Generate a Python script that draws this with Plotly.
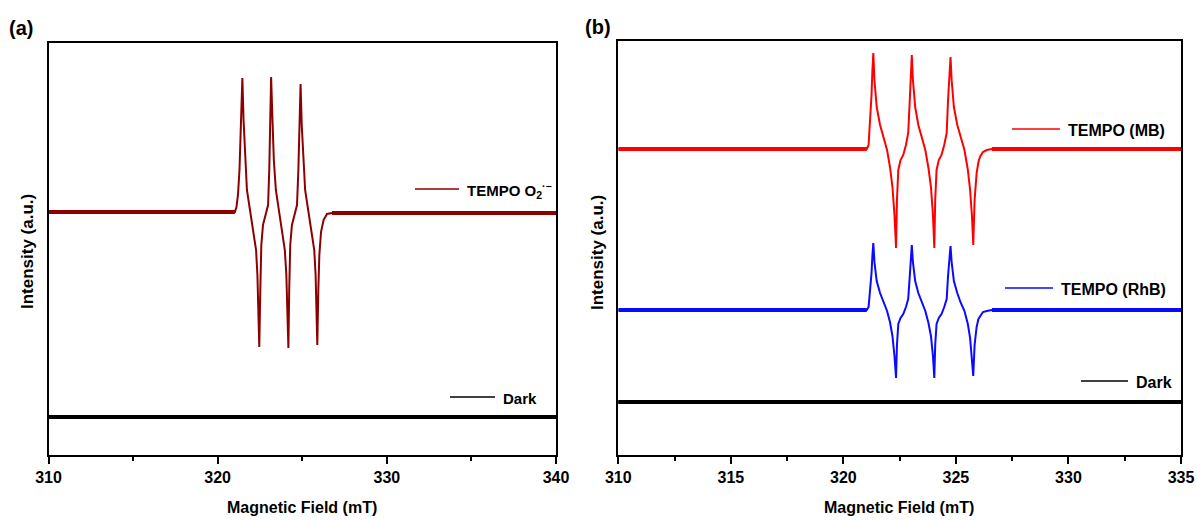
import plotly.graph_objects as go

# ---------------- Panel (a): TEMPO spin trap, superoxide ----------------
field_a = [310.00, 321.02, 321.11, 321.20, 321.29, 321.37, 321.46, 321.53, 321.62, 321.73,
           321.91, 322.09, 322.27, 322.35, 322.41, 322.46, 322.52, 322.58, 322.68, 322.83,
           322.98, 323.05, 323.11, 323.16, 323.24, 323.32, 323.44, 323.62, 323.80, 323.97,
           324.06, 324.12, 324.18, 324.23, 324.29, 324.39, 324.54, 324.69, 324.77, 324.82,
           324.90, 324.97, 325.06, 325.17, 325.35, 325.53, 325.71, 325.79, 325.85, 325.89,
           325.95, 326.01, 326.11, 326.26, 326.46, 326.76, 340.00]
tempo_o2 = [243, 243, 248, 260, 285, 330, 377, 335, 295, 265,
            245, 227, 205, 180, 145, 108, 165, 210, 230, 240,
            250, 285, 335, 378, 335, 295, 265, 245, 227, 205,
            180, 145, 107, 165, 210, 230, 240, 250, 285, 330,
            371, 330, 293, 265, 245, 227, 205, 180, 145, 110,
            165, 200, 223, 235, 241, 242, 242]
dark_a_field = [310, 340]
dark_a = [38, 38]

# ---------------- Panel (b): TEMPO with MB and RhB ----------------
field_b = [310.00, 321.04, 321.12, 321.18, 321.25, 321.29, 321.33, 321.38, 321.48, 321.63,
           321.77, 321.94, 322.07, 322.18, 322.27, 322.34, 322.38, 322.44, 322.54, 322.66,
           322.78, 322.88, 322.95, 323.00, 323.04, 323.09, 323.19, 323.33, 323.48, 323.64,
           323.78, 323.89, 323.98, 324.04, 324.08, 324.14, 324.24, 324.36, 324.48, 324.59,
           324.65, 324.70, 324.76, 324.81, 324.91, 325.06, 325.20, 325.38, 325.53, 325.63,
           325.71, 325.77, 325.83, 325.92, 326.00, 326.07, 326.20, 326.37, 326.60, 335.00]
tempo_mb = [306, 306, 310, 330, 360, 385, 402, 375, 348, 330,
            318, 305, 288, 268, 240, 207, 255, 285, 295, 300,
            310, 322, 355, 380, 400, 375, 348, 330, 318, 305,
            287, 268, 240, 207, 255, 285, 295, 300, 310, 322,
            355, 380, 398, 375, 348, 330, 318, 305, 285, 265,
            240, 210, 255, 282, 293, 298, 303, 305, 306, 306]
tempo_rhb = [145, 145, 148, 162, 182, 200, 212, 193, 174, 162,
             153, 144, 133, 119, 99, 77, 110, 131, 137, 141,
             148, 156, 179, 196, 210, 193, 174, 162, 153, 144,
             132, 119, 99, 77, 110, 131, 137, 141, 148, 156,
             179, 196, 209, 193, 174, 162, 153, 144, 131, 117,
             99, 79, 110, 128, 136, 139, 143, 144, 145, 145]
dark_b_field = [310, 335]
dark_b = [53, 53]

# tick values
ticks_a = [310, 320, 330, 340]
ticks_b = [310, 315, 320, 325, 330, 335]

W, H = 1197, 520
C_O2, C_MB, C_RHB, C_DARK = "#8b0000", "#ff0000", "#0a0aff", "#000000"
FONT = "Liberation Sans, Arial, sans-serif"

fig = go.Figure()


def add_spectrum(x, y, color, xa, ya, band=4, width=2):
    # noisy flat baseline rendered as a thicker band, peaks as a thin line
    fig.add_trace(go.Scatter(x=x[:2], y=y[:2], mode="lines", xaxis=xa, yaxis=ya,
                             line=dict(color=color, width=band), showlegend=False,
                             hoverinfo="skip"))
    fig.add_trace(go.Scatter(x=x[-2:], y=y[-2:], mode="lines", xaxis=xa, yaxis=ya,
                             line=dict(color=color, width=band), showlegend=False,
                             hoverinfo="skip"))
    fig.add_trace(go.Scatter(x=x, y=y, mode="lines", xaxis=xa, yaxis=ya,
                             line=dict(color=color, width=width), showlegend=False))


add_spectrum(field_a, tempo_o2, C_O2, "x", "y")
add_spectrum(dark_a_field, dark_a, C_DARK, "x", "y")
add_spectrum(field_b, tempo_mb, C_MB, "x2", "y2")
add_spectrum(field_b, tempo_rhb, C_RHB, "x2", "y2")
add_spectrum(dark_b_field, dark_b, C_DARK, "x2", "y2")


def px(x):
    return x / W


def py(y):
    return 1 - y / H


axis_common = dict(showline=True, linecolor="black", linewidth=2, mirror=True,
                   showgrid=False, zeroline=False, automargin=False)

fig.update_layout(
    template="none",
    width=W, height=H, margin=dict(l=0, r=0, t=0, b=0, pad=0),
    paper_bgcolor="white", plot_bgcolor="white",
    font=dict(family=FONT, color="black"),
    xaxis=dict(domain=[px(48.5), px(556)], range=[310, 340], tickvals=ticks_a,
               ticks="outside", ticklen=7, tickwidth=2, tickcolor="black",
               tickfont=dict(size=16, weight="bold"),
               minor=dict(dtick=5, ticks="outside", ticklen=4, tickwidth=2, tickcolor="black"),
               anchor="y", **axis_common),
    yaxis=dict(domain=[py(455), py(42.5)], range=[0, 412.5], showticklabels=False,
               ticks="", anchor="x", **axis_common),
    xaxis2=dict(domain=[px(618.3), px(1181)], range=[310, 335], tickvals=ticks_b,
                ticks="outside", ticklen=7, tickwidth=2, tickcolor="black",
                tickfont=dict(size=16, weight="bold"),
                minor=dict(dtick=2.5, ticks="outside", ticklen=4, tickwidth=2, tickcolor="black"),
                anchor="y2", **axis_common),
    yaxis2=dict(domain=[py(455), py(41)], range=[0, 414], showticklabels=False,
                ticks="", anchor="x2", **axis_common),
)

annotations = []
shapes = []


def text(x, y, s, size, angle=0, xanchor="center"):
    annotations.append(dict(x=px(x), y=py(y), xref="paper", yref="paper", text=s,
                            showarrow=False, textangle=angle, xanchor=xanchor,
                            yanchor="middle",
                            font=dict(size=size, family=FONT, color="black", weight="bold")))


def legend_entry(x0, x1, y, color, label, size):
    shapes.append(dict(type="line", xref="paper", yref="paper", x0=px(x0), x1=px(x1),
                       y0=py(y), y1=py(y), line=dict(color=color, width=1.5)))
    text(x1 + 6, y + 1, label, size, xanchor="left")


# panel labels
text(21, 28, "(a)", 20)
text(598, 27, "(b)", 20)

# axis titles
text(302, 507, "Magnetic Field (mT)", 16)
text(899, 507, "Magnetic Field (mT)", 16)
text(27, 252, "Intensity (a.u.)", 17, angle=-90)
text(597, 253, "Intensity (a.u.)", 17, angle=-90)

# in-plot legend entries
legend_entry(415, 459, 189, C_O2, "TEMPO O<sub>2</sub><sup>·−</sup>", 15)
legend_entry(450, 495, 397, C_DARK, "Dark", 15)
legend_entry(1012, 1060, 129, C_MB, "TEMPO (MB)", 16)
legend_entry(1005, 1053, 288, C_RHB, "TEMPO (RhB)", 16)
legend_entry(1081, 1128, 381, C_DARK, "Dark", 16)

fig.update_layout(annotations=annotations, shapes=shapes)

fig.write_html("out.html")
